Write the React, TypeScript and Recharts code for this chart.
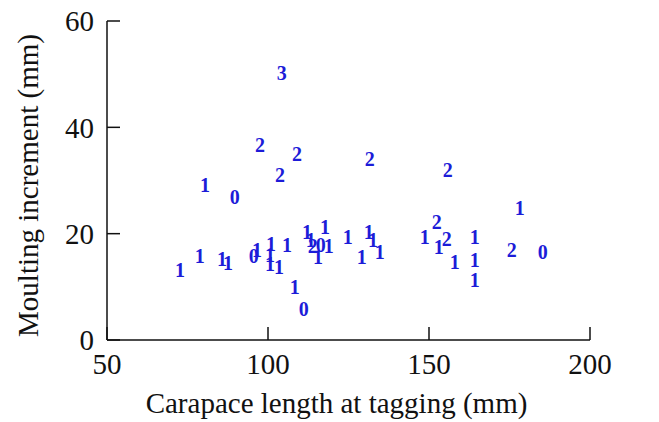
import { ScatterChart, Scatter, XAxis, YAxis } from "recharts";

// carapace length at tagging (mm)
const lengths = [
  97.5, 109.0, 103.7, 131.6, 155.8, 104.3, 80.4, 89.7, 72.7, 78.8, 85.7,
  87.6, 95.6, 96.6, 100.9, 100.6, 100.6, 103.4, 105.9, 108.3, 111.1, 112.1,
  117.7, 113.3, 113.9, 116.4, 118.9, 115.5, 124.8, 129.1, 131.3, 132.6, 134.7,
  152.4, 148.7, 155.5, 153.0, 164.2, 158.0, 164.2, 164.2, 175.7, 185.3, 178.2,
];
// moulting increment (mm)
const increments = [
  36.7, 35.0, 31.0, 34.0, 32.0, 50.2, 29.2, 26.9, 13.2, 15.8, 15.2,
  14.5, 15.8, 16.9, 18.1, 16.0, 14.3, 13.7, 17.9, 10.0, 5.8, 20.3,
  21.3, 18.8, 17.7, 17.9, 17.7, 15.6, 19.4, 15.6, 20.3, 18.8, 16.5,
  22.2, 19.4, 19.0, 17.5, 19.4, 14.7, 15.0, 11.3, 16.9, 16.6, 24.8,
];
// digit drawn at each point
const marks = [
  2, 2, 2, 2, 2, 3, 1, 0, 1, 1, 1,
  1, 0, 1, 1, 1, 1, 1, 1, 1, 0, 1,
  1, 1, 2, 0, 1, 1, 1, 1, 1, 1, 1,
  2, 1, 2, 1, 1, 1, 1, 1, 2, 0, 1,
];
const xTicks = [50, 100, 150, 200];
const yTicks = [0, 20, 40, 60];

const data = lengths.map((x, i) => ({ x, y: increments[i], n: marks[i] }));

const serif = "Liberation Serif, Times New Roman, serif";
const axisFont = { fill: "#111", fontSize: 29, fontFamily: serif };

function Digit(props: any) {
  const { cx, cy, payload } = props;
  return (
    <text x={cx} y={cy} textAnchor="middle" dominantBaseline="central"
      fontFamily={serif} fontWeight="bold" fontSize={20} fill="#1c1cd8">
      {payload.n}
    </text>
  );
}

function YTitle({ viewBox }: any) {
  const x = viewBox.x + 38;
  const y = viewBox.y + viewBox.height / 2 + 5;
  return (
    <text transform={`translate(${x}, ${y}) rotate(-90)`} textAnchor="middle" {...axisFont}>
      Moulting increment (mm)
    </text>
  );
}

export default function App() {
  return (
    <div style={{ position: "absolute", left: 0, top: 0, width: 659, height: 422, background: "#fff" }}>
      <ScatterChart width={659} height={422} margin={{ top: 21, right: 69, bottom: 0, left: 0 }}>
        <XAxis type="number" dataKey="x" domain={[50, 200]} ticks={xTicks} height={82}
          stroke="#111" strokeWidth={1.5} tickSize={-13} tickMargin={26} tick={axisFont}
          label={{ value: "Carapace length at tagging (mm)", position: "insideBottom", offset: 9, dx: -12, ...axisFont }} />
        <YAxis type="number" dataKey="y" domain={[0, 60]} ticks={yTicks} width={107}
          stroke="#111" strokeWidth={1.5} tickSize={-13} tickMargin={26} tick={axisFont}
          label={<YTitle />} />
        <Scatter data={data} shape={Digit} isAnimationActive={false} />
      </ScatterChart>
    </div>
  );
}
